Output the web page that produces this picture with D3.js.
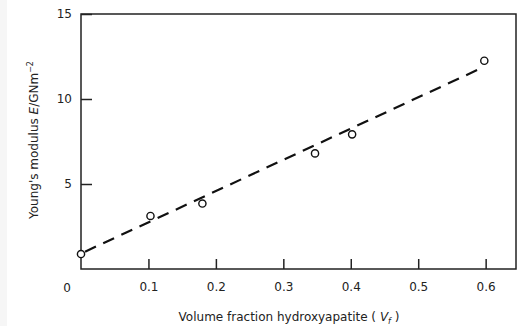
<!DOCTYPE html>
<html>
<head>
<meta charset="utf-8">
<script src="https://cdn.jsdelivr.net/npm/d3@7"></script>
<style>
  html, body { margin: 0; padding: 0; background: #fff; }
  svg { display: block; }
  text { font-family: "DejaVu Sans", "Liberation Sans", sans-serif; fill: #222; }
</style>
</head>
<body>
<svg id="chart" width="520" height="326"></svg>
<script>
// --- DATA ---
const volumeFraction = [0.0, 0.103, 0.18, 0.347, 0.402, 0.598];
const youngsModulus = [0.88, 3.12, 3.85, 6.8, 7.92, 12.25];
// dashed fit line end points
const fitX = [0.006, 0.59];
const fitE = [1.02, 11.75];
const xTicks = [0.1, 0.2, 0.3, 0.4, 0.5, 0.6];
const yTicks = [5, 10, 15];

function drawChart() {
    const svg = d3.select("#chart");
    svg.selectAll("*").remove();

    const marginLeft = 81, marginRight = 4, marginTop = 14, marginBottom = 57;
    const width = 520, height = 326;

    // faint scan strip on the left edge
    svg.append("rect").attr("x", 0).attr("y", 0).attr("width", 7).attr("height", height).attr("fill", "#f6f6f6");

    const x = d3.scaleLinear().domain([0, 0.645]).range([marginLeft, width - marginRight]);
    const y = d3.scaleLinear().domain([0, 15]).range([height - marginBottom, marginTop]);

    // frame
    svg.append("rect")
        .attr("x", x(0)).attr("y", y(15))
        .attr("width", x(0.645) - x(0)).attr("height", y(0) - y(15))
        .attr("fill", "none").attr("stroke", "#222").attr("stroke-width", 1.5);

    // bottom axis, ticks pointing inward
    svg.append("g")
        .attr("transform", `translate(0,${y(0)})`)
        .call(d3.axisBottom(x).tickValues(xTicks).tickSize(-10).tickPadding(13).tickFormat(d3.format(".1f")))
        .call(g => g.select(".domain").remove())
        .call(g => g.selectAll(".tick line").attr("stroke", "#222").attr("stroke-width", 1.5))
        .call(g => g.selectAll(".tick text").attr("font-family", null).attr("font-size", 12).attr("fill", "#222"));

    // origin label
    svg.append("text")
        .attr("x", x(0) - 14).attr("y", y(0) + 23)
        .attr("text-anchor", "middle").attr("font-size", 12)
        .text("0");

    // left axis
    svg.append("g")
        .attr("transform", `translate(${x(0)},0)`)
        .call(d3.axisLeft(y).tickValues(yTicks).tickSize(-11).tickPadding(20))
        .call(g => g.select(".domain").remove())
        .call(g => g.selectAll(".tick line").attr("stroke", "#222").attr("stroke-width", 1.5))
        .call(g => g.selectAll(".tick text").attr("font-family", null).attr("font-size", 12).attr("fill", "#222").attr("dx", 11));

    // dashed fit line
    const line = d3.line().x(d => x(d[0])).y(d => y(d[1]));
    svg.append("path")
        .datum(fitX.map((v, i) => [v, fitE[i]]))
        .attr("d", line)
        .attr("fill", "none")
        .attr("stroke", "#111")
        .attr("stroke-width", 2.2)
        .attr("stroke-dasharray", "12,8");

    // data points
    svg.append("g")
        .selectAll("circle")
        .data(volumeFraction.map((v, i) => [v, youngsModulus[i]]))
        .join("circle")
            .attr("cx", d => x(d[0]))
            .attr("cy", d => y(d[1]))
            .attr("r", 3.6)
            .attr("fill", "#fff")
            .attr("stroke", "#111")
            .attr("stroke-width", 1.4);

    // axis titles
    const xt = svg.append("text")
        .attr("x", 289).attr("y", 321)
        .attr("text-anchor", "middle").attr("font-size", 12);
    xt.append("tspan").text("Volume fraction hydroxyapatite ( ");
    xt.append("tspan").attr("font-style", "italic").text("V");
    xt.append("tspan").attr("font-size", 8).attr("dy", 3).attr("font-style", "italic").text("f");
    xt.append("tspan").attr("dy", -3).text(" )");

    const yt = svg.append("text")
        .attr("transform", "translate(38,140) rotate(-90)")
        .attr("text-anchor", "middle").attr("font-size", 12);
    yt.append("tspan").text("Young's modulus ");
    yt.append("tspan").attr("font-style", "italic").text("E");
    yt.append("tspan").text("/GNm");
    yt.append("tspan").attr("font-size", 8).attr("dy", -5).text("−2");
}

drawChart();
</script>
</body>
</html>
